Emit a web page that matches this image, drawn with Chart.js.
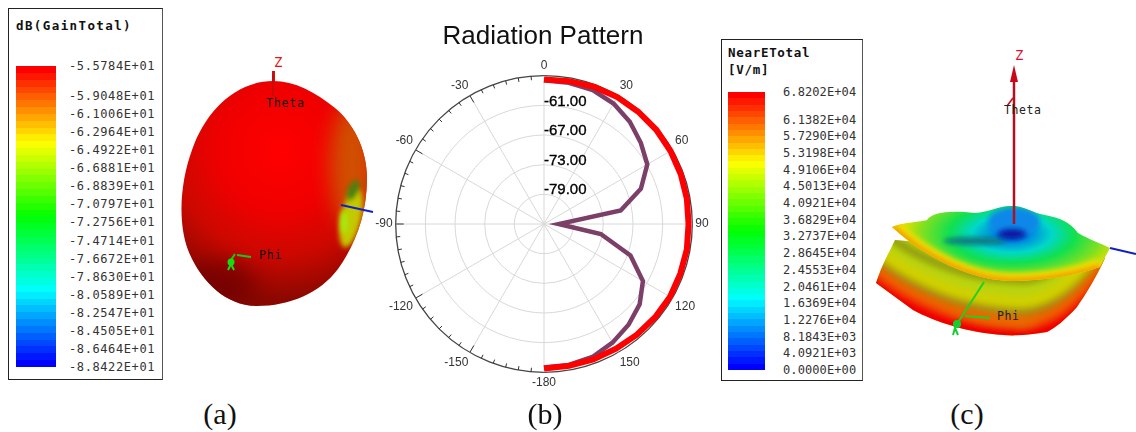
<!DOCTYPE html>
<html>
<head>
<meta charset="utf-8">
<title>Radiation Pattern</title>
<script src="https://cdn.jsdelivr.net/npm/chart.js@4"></script>
<style>
    html, body { margin: 0; padding: 0; background: #fff; }
    #page { position: relative; width: 1136px; height: 432px; overflow: hidden; }
    #page svg { position: absolute; left: 0; top: 0; }
    #polar { position: absolute; left: 368px; top: 0; }
    .key { position: absolute; box-sizing: border-box; border: 1px solid #222; border-right-color: #555; background: #fff; }
    .key b, .key span { position: absolute; font-family: "DejaVu Sans Mono", monospace; white-space: pre; line-height: 14px; }
    .key b { font-size: 12.5px; color: #111; }
    .key span { font-size: 12px; color: #333; }
    .key i { position: absolute; display: block; }
    .caption { position: absolute; top: 397px; font: 30px "Liberation Serif", serif; color: #111; transform: translateX(-50%); }
</style>
</head>
<body>
<div id="page">
<svg width="1136" height="432" viewBox="0 0 1136 432">
    <defs>
        <filter id="soft" x="-150%" y="-150%" width="400%" height="400%"><feGaussianBlur stdDeviation="10"/></filter>
        <filter id="soft2" x="-150%" y="-150%" width="400%" height="400%"><feGaussianBlur stdDeviation="2.5"/></filter>
        <filter id="soft3" x="-20%" y="-50%" width="140%" height="200%"><feGaussianBlur stdDeviation="3.5"/></filter>
        <radialGradient id="eggFill" gradientUnits="userSpaceOnUse" cx="280" cy="150" r="150">
            <stop offset="0" stop-color="#ff0000"/>
            <stop offset="0.4" stop-color="#f00000"/>
            <stop offset="0.7" stop-color="#cc0800"/>
            <stop offset="1" stop-color="#8a0800"/>
        </radialGradient>
        <radialGradient id="discFill" gradientUnits="userSpaceOnUse" cx="0" cy="0" r="1" gradientTransform="translate(1012 234) scale(125 58)">
            <stop offset="0" stop-color="#0028c8"/>
            <stop offset="0.14" stop-color="#0088e0"/>
            <stop offset="0.32" stop-color="#00d8c8"/>
            <stop offset="0.5" stop-color="#10e050"/>
            <stop offset="0.72" stop-color="#80e020"/>
            <stop offset="0.88" stop-color="#e0e000"/>
            <stop offset="1" stop-color="#f0a000"/>
        </radialGradient>
        <clipPath id="eggClip"><path d="M273 81 C295 81 315 92 335 108 C352 122 367 148 367 178 C367 215 355 245 338 269 C320 293 290 306 257 306 C225 306 200 280 188 250 C177 220 181 180 192 150 C205 112 235 81 273 81 Z"/></clipPath>
        <clipPath id="bandClip"><path d="M876 283 C882 265 888 255 895 240 L1105 258 C1095 280 1085 295 1077 307 C1065 320 1055 328 1047 332 C1030 335 1015 336 1003 335 C970 333 935 322 913 310 Z"/></clipPath>
        <clipPath id="discClip"><path d="M892 227 C905 222 920 222 927 220 C932 212 950 210 975 213 C990 212 1000 205 1013 206 C1025 206 1030 212 1045 215 C1060 218 1070 222 1078 233 C1090 240 1100 243 1110 248 L1100 267 C1070 277 1040 281 1010 281 C975 280 930 262 892 227 Z"/></clipPath>
        <path id="bandCurve" d="M860 270 C905 315 965 338 1025 338 C1060 335 1090 300 1112 262" fill="none"/>
    </defs>

    <!-- (a) 3D gain pattern -->
    <rect x="272" y="71" width="3" height="14" fill="#d01010"/>
    <g clip-path="url(#eggClip)">
        <rect x="170" y="70" width="210" height="245" fill="url(#eggFill)"/>
        <ellipse cx="352" cy="165" rx="22" ry="62" fill="#d05000" filter="url(#soft)"/>
        <ellipse cx="218" cy="285" rx="38" ry="24" fill="#700600" opacity="0.7" filter="url(#soft)"/>
        <ellipse cx="351" cy="218" rx="10" ry="30" transform="rotate(12 351 218)" fill="#c4c800" filter="url(#soft2)"/>
        <ellipse cx="353" cy="190" rx="5" ry="11" transform="rotate(25 353 190)" fill="#4c8010" filter="url(#soft2)"/>
        <ellipse cx="344" cy="222" rx="4" ry="12" fill="#a8e810" filter="url(#soft2)"/>
    </g>
    <path d="M273 74 L273 96" stroke="#b01010" stroke-width="1.5" opacity="0.7"/>
    <path d="M341 205 L373 212" stroke="#1020d0" stroke-width="2"/>
    <path d="M235 254 L229 263 M237 255 L251 257" stroke="#18c818" stroke-width="2" fill="none"/>
    <circle cx="231" cy="262" r="3.5" fill="#10e010"/>
    <path d="M228 270 L231 264 L234 270" stroke="#10e010" stroke-width="2" fill="none"/>
    <g font-family="DejaVu Sans Mono, monospace" font-size="11.5" letter-spacing="0.8" fill="#111">
        <text x="266" y="107">Theta</text>
        <text x="259" y="259">Phi</text>
        <text x="274" y="67" fill="#e81010" font-size="14">Z</text>
    </g>

    <!-- (c) 3D near field -->
    <g clip-path="url(#bandClip)">
        <rect x="870" y="235" width="240" height="105" fill="#b8d410"/>
        <g filter="url(#soft3)">
            <use href="#bandCurve" stroke="#f00000" stroke-width="22"/>
            <use href="#bandCurve" stroke="#f06000" stroke-width="10" transform="translate(0 -17)"/>
            <use href="#bandCurve" stroke="#a08010" stroke-width="7" transform="translate(0 -26)"/>
            <use href="#bandCurve" stroke="#d0d000" stroke-width="12" transform="translate(0 -36)"/>
            <use href="#bandCurve" stroke="#8a9010" stroke-width="7" transform="translate(0 -58)"/>
        </g>
    </g>
    <g clip-path="url(#discClip)">
        <rect x="885" y="200" width="230" height="85" fill="url(#discFill)"/>
        <ellipse cx="1014" cy="222" rx="26" ry="15" fill="#1088e8" filter="url(#soft2)"/>
        <ellipse cx="975" cy="241" rx="32" ry="4" fill="#087a80" filter="url(#soft2)"/>
        <ellipse cx="1012" cy="234" rx="14" ry="5" fill="#0818a0" filter="url(#soft2)"/>
        <path d="M892 227 C930 262 975 280 1010 281 C1040 281 1070 277 1100 267" fill="none" stroke="#f0e000" stroke-width="16" filter="url(#soft2)"/>
        <path d="M892 227 C930 262 975 280 1010 281 C1040 281 1070 277 1100 267" fill="none" stroke="#f0a000" stroke-width="7" filter="url(#soft2)"/>
    </g>
    <path d="M1014 82 L1014 224" stroke="#b01020" stroke-width="2.5"/>
    <path d="M1014 65 L1010 82 L1018 82 Z" fill="#c80818"/>
    <path d="M1013 98 L1007 106" stroke="#c01020" stroke-width="1.5"/>
    <path d="M1110 248 L1136 254" stroke="#1020c0" stroke-width="2"/>
    <path d="M984 282 L957 324" stroke="#20d020" stroke-width="2"/>
    <path d="M965 316 L990 318" stroke="#20d020" stroke-width="2"/>
    <circle cx="957" cy="324" r="4" fill="#10d030"/>
    <path d="M953 335 L955 328 L958 335" stroke="#10d030" stroke-width="2" fill="none"/>
    <g font-family="DejaVu Sans Mono, monospace" font-size="11.5" letter-spacing="0.6" fill="#222">
        <text x="1004" y="114">Theta</text>
        <text x="997" y="320">Phi</text>
        <text x="1015" y="60" fill="#e01030" font-size="14">Z</text>
    </g>
</svg>

<div class="key" id="gainKey" style="left:8px;top:8px;width:155px;height:372px"></div>
<div class="key" id="nearKey" style="left:721px;top:39px;width:142px;height:342px"></div>

<canvas id="polar" width="350" height="402"></canvas>

<div class="caption" style="left:220px">(a)</div>
<div class="caption" style="left:545px">(b)</div>
<div class="caption" style="left:967px">(c)</div>
</div>

<script>
// angle of each spoke, clockwise from the top
const angles = [0, 10, 20, 30, 40, 50, 60, 70, 80, 90, 100, 110, 120, 130, 140, 150, 160, 170,
    -180, -170, -160, -150, -140, -130, -120, -110, -100, -90, -80, -70, -60, -50, -40, -30, -20, -10];

// dB values, only the 0..180 half is plotted
const outerCut = [-55.76, -55.65, -55.45, -55.35, -55.35, -55.35, -55.45, -55.55, -55.65, -55.76,
    -55.65, -55.65, -55.55, -55.65, -55.76, -55.86, -55.86, -55.86, -55.76];
const innerCut = [-55.9, -56.0, -56.17, -56.86, -58.0, -59.44, -60.87, -64.14, -69.25, -82.0,
    -73.34, -66.39, -61.89, -59.74, -58.4, -57.29, -56.37, -56.06, -55.96];

const ringLabels = [-61, -67, -73, -79];

const gainTitle = ['dB(GainTotal)'];
const gainLabels = ['-5.5784E+01', '-5.9048E+01', '-6.1006E+01', '-6.2964E+01', '-6.4922E+01', '-6.6881E+01',
    '-6.8839E+01', '-7.0797E+01', '-7.2756E+01', '-7.4714E+01', '-7.6672E+01', '-7.8630E+01', '-8.0589E+01',
    '-8.2547E+01', '-8.4505E+01', '-8.6464E+01', '-8.8422E+01'];
const nearTitle = ['NearETotal', '[V/m]'];
const nearLabels = ['6.8202E+04', '6.1382E+04', '5.7290E+04', '5.3198E+04', '4.9106E+04', '4.5013E+04',
    '4.0921E+04', '3.6829E+04', '3.2737E+04', '2.8645E+04', '2.4553E+04', '2.0461E+04', '1.6369E+04',
    '1.2276E+04', '8.1843E+03', '4.0921E+03', '0.0000E+00'];

// banded rainbow for the two colour keys
function rainbowBands(steps) {
    const anchors = [[255, 0, 0], [255, 255, 0], [0, 255, 0], [0, 255, 255], [0, 0, 255]];
    const parts = [];
    for (let i = 0; i < steps; i++) {
        const t = i / (steps - 1) * 4;
        const k = Math.min(3, Math.floor(t));
        const c = anchors[k].map((v, n) => Math.round(v + (anchors[k + 1][n] - v) * (t - k)));
        parts.push(`rgb(${c}) ${i / steps * 100}% ${(i + 1) / steps * 100}%`);
    }
    return `linear-gradient(${parts.join(',')})`;
}

function buildKey(id, title, labels, o) {
    const box = document.getElementById(id);
    title.forEach((line, i) => {
        const el = document.createElement('b');
        el.textContent = line;
        el.style.left = o.titleX + 'px';
        el.style.top = o.titleY + i * 17 + 'px';
        el.style.letterSpacing = o.titleSpacing + 'px';
        box.appendChild(el);
    });
    const bar = document.createElement('i');
    bar.style.cssText = `left:${o.barX}px;top:${o.barTop}px;width:${o.barW}px;height:${o.barBottom - o.barTop}px;background:${rainbowBands(44)}`;
    box.appendChild(bar);
    labels.forEach((text, i) => {
        const el = document.createElement('span');
        el.textContent = text;
        const y = i === 0 ? o.barTop : o.barBottom - (labels.length - 1 - i) * o.step;
        el.style.left = o.labelX + 'px';
        el.style.top = y - 7 + 'px';
        el.style.letterSpacing = o.labelSpacing + 'px';
        box.appendChild(el);
    });
}

buildKey('gainKey', gainTitle, gainLabels, { titleX: 7, titleY: 10, titleSpacing: 1.4, barX: 7, barW: 40, barTop: 57, barBottom: 358, labelX: 60, labelSpacing: 0.6, step: 18.07 });
buildKey('nearKey', nearTitle, nearLabels, { titleX: 6, titleY: 6, titleSpacing: 0.7, barX: 6, barW: 37, barTop: 52, barBottom: 330, labelX: 61, labelSpacing: 0.1, step: 16.69 });

// outer tick marks every 5 degrees and the dB labels beside the rings
const polarExtras = {
    id: 'polarExtras',
    afterDatasetsDraw(chart) {
        const { ctx, scales: { r } } = chart;
        ctx.save();
        ctx.strokeStyle = '#333';
        ctx.lineWidth = 1;
        for (let i = 37; i < 72; i++) {
            const len = i % 6 === 0 ? 8 : 4;
            const a = r.getPointPosition(i / 2, r.drawingArea);
            const b = r.getPointPosition(i / 2, r.drawingArea - len);
            ctx.beginPath();
            ctx.moveTo(a.x, a.y);
            ctx.lineTo(b.x, b.y);
            ctx.stroke();
        }
        ctx.fillStyle = '#000';
        ctx.strokeStyle = '#000';
        ctx.lineWidth = 0.35;
        ctx.font = '15px "Liberation Sans", Arial, sans-serif';
        ctx.textAlign = 'left';
        ctx.textBaseline = 'middle';
        ringLabels.forEach(v => {
            const d = r.getDistanceFromCenterForValue(v);
            ctx.fillText(v.toFixed(2), r.xCenter, r.yCenter - d - 4);
            ctx.strokeText(v.toFixed(2), r.xCenter, r.yCenter - d - 4);
        });
        ctx.restore();
    }
};

new Chart(document.getElementById('polar'), {
    type: 'radar',
    data: {
        labels: angles,
        datasets: [
            { label: 'outer', data: outerCut, borderColor: '#ff0000', borderWidth: 6, pointRadius: 0, fill: false, tension: 0 },
            { label: 'inner', data: innerCut, borderColor: '#7c3f68', borderWidth: 4.5, pointRadius: 0, fill: false, tension: 0, borderJoinStyle: 'miter' }
        ]
    },
    options: {
        responsive: false,
        animation: false,
        layout: { padding: { top: 4, bottom: 12, left: 0, right: 0 } },
        plugins: {
            legend: { display: false },
            tooltip: { enabled: false },
            title: {
                display: true,
                text: 'Radiation Pattern',
                color: '#111',
                font: { family: '"Liberation Sans", Arial, sans-serif', size: 26, weight: 'normal' },
                padding: { top: 17.4, bottom: 5.7 }
            }
        },
        scales: {
            r: {
                min: -85,
                max: -55,
                ticks: { stepSize: 6, display: false },
                grid: {
                    circular: true,
                    color: ctx => ctx.tick && ctx.tick.value === -55 ? '#444' : '#d8d8d8',
                    lineWidth: ctx => ctx.tick && ctx.tick.value === -55 ? 1.3 : 1
                },
                angleLines: {
                    color: '#d8d8d8',
                    lineWidth: ctx => ctx.index % 3 === 0 ? 1 : 0
                },
                pointLabels: {
                    display: true,
                    padding: 3,
                    color: '#333',
                    font: { family: '"Liberation Sans", Arial, sans-serif', size: 12 },
                    callback: (label, i) => i % 3 === 0 ? String(label) : ''
                }
            }
        }
    },
    plugins: [polarExtras]
});
</script>
</body>
</html>
